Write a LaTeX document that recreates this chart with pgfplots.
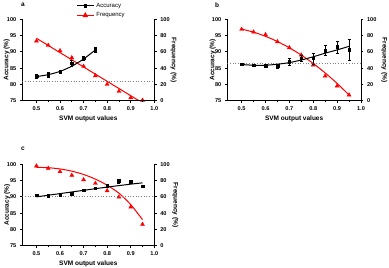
\documentclass[border=0pt]{standalone}
\usepackage{pgfplots}
\pgfplotsset{compat=1.18}
\usepackage{fontspec}
\setmainfont{Liberation Sans}
\setsansfont{Liberation Sans}
\definecolor{myred}{RGB}{255,0,0}
\pgfplotsset{
  base/.style={scale only axis, width=132pt, height=81.4pt,
    xmin=0.44, xmax=1.0, anchor=south west,
    /pgf/number format/assume math mode=true,
    ticklabel style={font=\fontsize{5.6}{6}\selectfont\bfseries},
    label style={font=\fontsize{6.5}{7.5}\selectfont\bfseries},
    axis line style={line width=0.9pt},
    tick style={line width=0.8pt, black},
    tick align=outside, major tick length=2.5pt, minor tick length=1.5pt,
    /pgf/number format/fixed, /pgf/number format/precision=1, /pgf/number format/fixed zerofill,
  },
  leftax/.style={base, ymin=75, ymax=100, ytick={75,80,...,100},
    axis y line*=left, axis x line*=bottom,
    xtick={0.5,0.6,...,1.0}, minor x tick num=1,
    xlabel={SVM output values}, ylabel={Accuracy (\%)},
    yticklabel style={/pgf/number format/precision=0, /pgf/number format/fixed zerofill=false},
    ylabel style={at={(axis description cs:#1,0.5)}, anchor=center}, xlabel style={yshift=2pt}},
  leftax/.default={-0.115},
  rightax/.style={base, ymin=0, ymax=100, ytick={0,20,...,100},
    axis y line*=right, axis x line=none,
    ylabel={Frequency (\%)},
    yticklabel style={/pgf/number format/precision=0, /pgf/number format/fixed zerofill=false},
    ylabel style={at={(axis description cs:#1,0.5)}, anchor=center, rotate=180}},
  rightax/.default={1.15},
  accmark/.style={only marks, mark=square*, mark size=1.3pt, black,
    error bars/y dir=both, error bars/y explicit,
    error bars/error bar style={line width=0.6pt, black},
    error bars/error mark options={rotate=90, mark size=1.5pt, line width=0.6pt}},
  accline/.style={black, line width=1pt, smooth, no marks},
  freqmark/.style={only marks, mark=triangle*, mark size=2.3pt, myred},
  freqline/.style={myred, line width=1pt, smooth, no marks},
  refline/.style={gray, dotted, line width=0.7pt, no marks},
}
\begin{document}
\begin{tikzpicture}
\path[use as bounding box] (0pt,0pt) rectangle (389pt,268pt);
% ---------- panel a ----------
\begin{axis}[rightax=1.145, at={(22.3pt,167.3pt)}]
\addplot[freqline, smooth=false] coordinates {(0.5,76.7) (0.935,0)};
\addplot[freqmark] coordinates {(0.5,73.3) (0.55,68) (0.6,61.4) (0.65,52.8) (0.7,42.2) (0.75,30.7) (0.8,20.1) (0.85,11.5) (0.9,3.7) (0.95,0.5)};
\end{axis}
\begin{axis}[leftax=-0.118, at={(22.3pt,167.3pt)},
  legend style={at={(0.4,1.24)}, anchor=north west, draw=none, fill=none,
    font=\fontsize{6}{7}\selectfont, row sep=0pt, inner sep=1pt},
  legend cell align=left]
\addlegendimage{black, line width=1pt, mark=square*, mark size=1.3pt}
\addlegendentry{Accuracy}
\addlegendimage{myred, line width=1pt, mark=triangle*, mark size=2.3pt}
\addlegendentry{Frequency}
\addplot[forget plot, refline] coordinates {(0.44,81.0) (1.0,81.0)};
\addplot[forget plot, accline] coordinates {(0.5,82.4) (0.55,83.0) (0.6,84.0) (0.65,85.6) (0.7,87.8) (0.75,90.6)};
\addplot[forget plot, accmark] table[x=x,y=y,y error=e] {
x y e
0.5 82.5 0.7
0.55 82.9 0.7
0.6 83.9 0.5
0.65 86.5 0.8
0.7 88.0 0.7
0.75 90.6 0.8
};
\end{axis}
\node[anchor=north west, font=\fontsize{6.5}{7}\selectfont\bfseries, inner sep=0pt] at (21pt,265.5pt) {a};
% ---------- panel b ----------
\begin{axis}[rightax=1.175, at={(227.3pt,167.3pt)}, width=133.7pt]
\addplot[freqline] coordinates {(0.5,88) (0.55,84.2) (0.6,79.1) (0.65,72.7) (0.7,65) (0.75,56) (0.8,45.7) (0.85,34.1) (0.9,21.2) (0.95,7)};
\addplot[freqmark] coordinates {(0.5,87.7) (0.55,84.4) (0.6,81.1) (0.65,72.5) (0.7,65.1) (0.75,56.1) (0.8,43.9) (0.85,30.3) (0.9,18.1) (0.95,7.0)};
\end{axis}
\begin{axis}[leftax=-0.11, at={(227.3pt,167.3pt)}, width=133.7pt]
\addplot[refline] coordinates {(0.44,86.5) (1.0,86.5)};
\addplot[accline] coordinates {(0.5,86.1) (0.55,85.9) (0.6,85.9) (0.65,86.2) (0.7,86.7) (0.75,87.5) (0.8,88.5) (0.85,89.6) (0.9,90.6) (0.95,91.7)};
\addplot[accmark] table[x=x,y=y,y error=e] {
x y e
0.5 86.2 0.3
0.55 85.9 0.3
0.6 85.8 0.3
0.65 85.7 0.6
0.7 86.9 1.0
0.75 88.0 0.8
0.8 88.0 1.7
0.85 90.4 1.5
0.9 91.5 1.8
0.95 90.6 3.2
};
\end{axis}
\node[anchor=north west, font=\fontsize{6.5}{7}\selectfont\bfseries, inner sep=0pt] at (215pt,265.5pt) {b};
% ---------- panel c ----------
\begin{axis}[rightax=1.16, at={(22.3pt,22.3pt)}]
\addplot[freqline] coordinates {(0.5,96.3) (0.55,95.8) (0.6,94.3) (0.65,91.6) (0.7,87.5) (0.75,81.8) (0.8,74.3) (0.85,64.5) (0.9,50.5) (0.95,32)};
\addplot[freqmark] coordinates {(0.5,98) (0.55,95.1) (0.6,91) (0.65,86.5) (0.7,81.1) (0.75,76.6) (0.8,67.6) (0.85,59.8) (0.9,47.5) (0.95,26.2)};
\end{axis}
\begin{axis}[leftax=-0.114, at={(22.3pt,22.3pt)}]
\addplot[refline] coordinates {(0.44,90.2) (1.0,90.2)};
\addplot[accline] coordinates {(0.5,90.0) (0.6,91.0) (0.7,92.0) (0.8,93.0) (0.9,93.9) (0.95,94.3)};
\addplot[accmark] table[x=x,y=y,y error=e] {
x y e
0.5 90.5 0.3
0.55 90.3 0.2
0.6 90.5 0.3
0.65 91.0 0.4
0.7 92.0 0.3
0.75 92.7 0.3
0.8 93.3 0.5
0.85 94.9 0.6
0.9 94.7 0.5
0.95 93.3 0.4
};
\end{axis}
\node[anchor=north west, font=\fontsize{6.5}{7}\selectfont\bfseries, inner sep=0pt] at (21pt,121pt) {c};
\end{tikzpicture}
\end{document}
